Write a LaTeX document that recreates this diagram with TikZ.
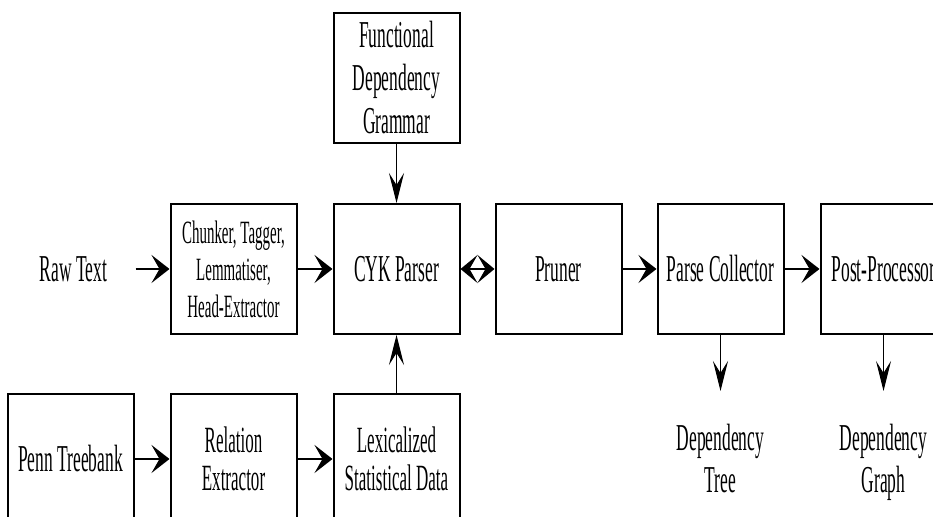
\documentclass[tikz,border=0pt]{standalone}
\usepackage{fontspec}
\setmainfont[FakeStretch=0.46]{Liberation Serif}
\usetikzlibrary{arrows.meta, positioning}

\begin{document}
\begin{tikzpicture}[
  node distance=17.5pt,
  box/.style={draw, line width=1pt, minimum width=63pt, minimum height=65pt, align=center, inner sep=2pt, font=\fontsize{19}{21.5}\selectfont},
  smallbox/.style={box, font=\fontsize{16.25}{18.5}\selectfont},
  tightbox/.style={box, font=\fontsize{18.5}{19}\selectfont},
  outtext/.style={align=center, inner sep=0pt, font=\fontsize{19}{21}\selectfont},
  harrow/.style={-{Stealth[length=9pt, width=14pt, inset=4pt]}, line width=1pt},
  varrow/.style={-{Stealth[length=15pt, width=7.5pt, inset=6pt]}, line width=0.5pt}
]
\useasboundingbox (0,0) rectangle (466.5pt,-258.5pt);
\clip (0,0) rectangle (466.5pt,-258.5pt);

% main row
\node[box] (cyk) at (198.25pt,-134.5pt) {CYK Parser};
\node[smallbox, left=of cyk] (chunker) {Chunker, Tagger,\\Lemmatiser,\\Head-Extractor};
\node[inner xsep=14pt, inner ysep=0pt, font=\fontsize{19}{21.5}\selectfont, left=17pt of chunker] (raw) {Raw Text};
\node[box, right=17pt of cyk] (pruner) {Pruner};
\node[box, right=17pt of pruner] (parse) {Parse Collector};
\node[box, right=of parse] (post) {Post-Processor};

% grammar and statistics
\node[box, above=29.5pt of cyk] (fdg) {Functional\\Dependency\\Grammar};
\node[tightbox, below=29pt of cyk] (lex) {Lexicalized\\Statistical Data};
\node[tightbox, left=of lex] (relation) {Relation\\Extractor};
\node[box, left=of relation] (penn) {Penn Treebank};

% outputs
\node[outtext, below=44.5pt of parse] (tree) {Dependency\\Tree};
\node[outtext, below=44.5pt of post] (graph) {Dependency\\Graph};

\draw[harrow] (raw) -- (chunker);
\draw[harrow] (chunker) -- (cyk);
\draw[harrow, {Stealth[length=8.5pt, width=14pt, inset=4pt]}-{Stealth[length=8.5pt, width=14pt, inset=4pt]}] (cyk) -- (pruner);
\draw[harrow] (pruner) -- (parse);
\draw[harrow] (parse) -- (post);
\draw[varrow] (fdg) -- (cyk);
\draw[varrow] (lex) -- (cyk);
\draw[harrow] (penn) -- (relation);
\draw[harrow] (relation) -- (lex);
\draw[varrow, shorten >=16.5pt] (parse) -- (tree);
\draw[varrow, shorten >=16.5pt] (post) -- (graph);
\end{tikzpicture}
\end{document}
